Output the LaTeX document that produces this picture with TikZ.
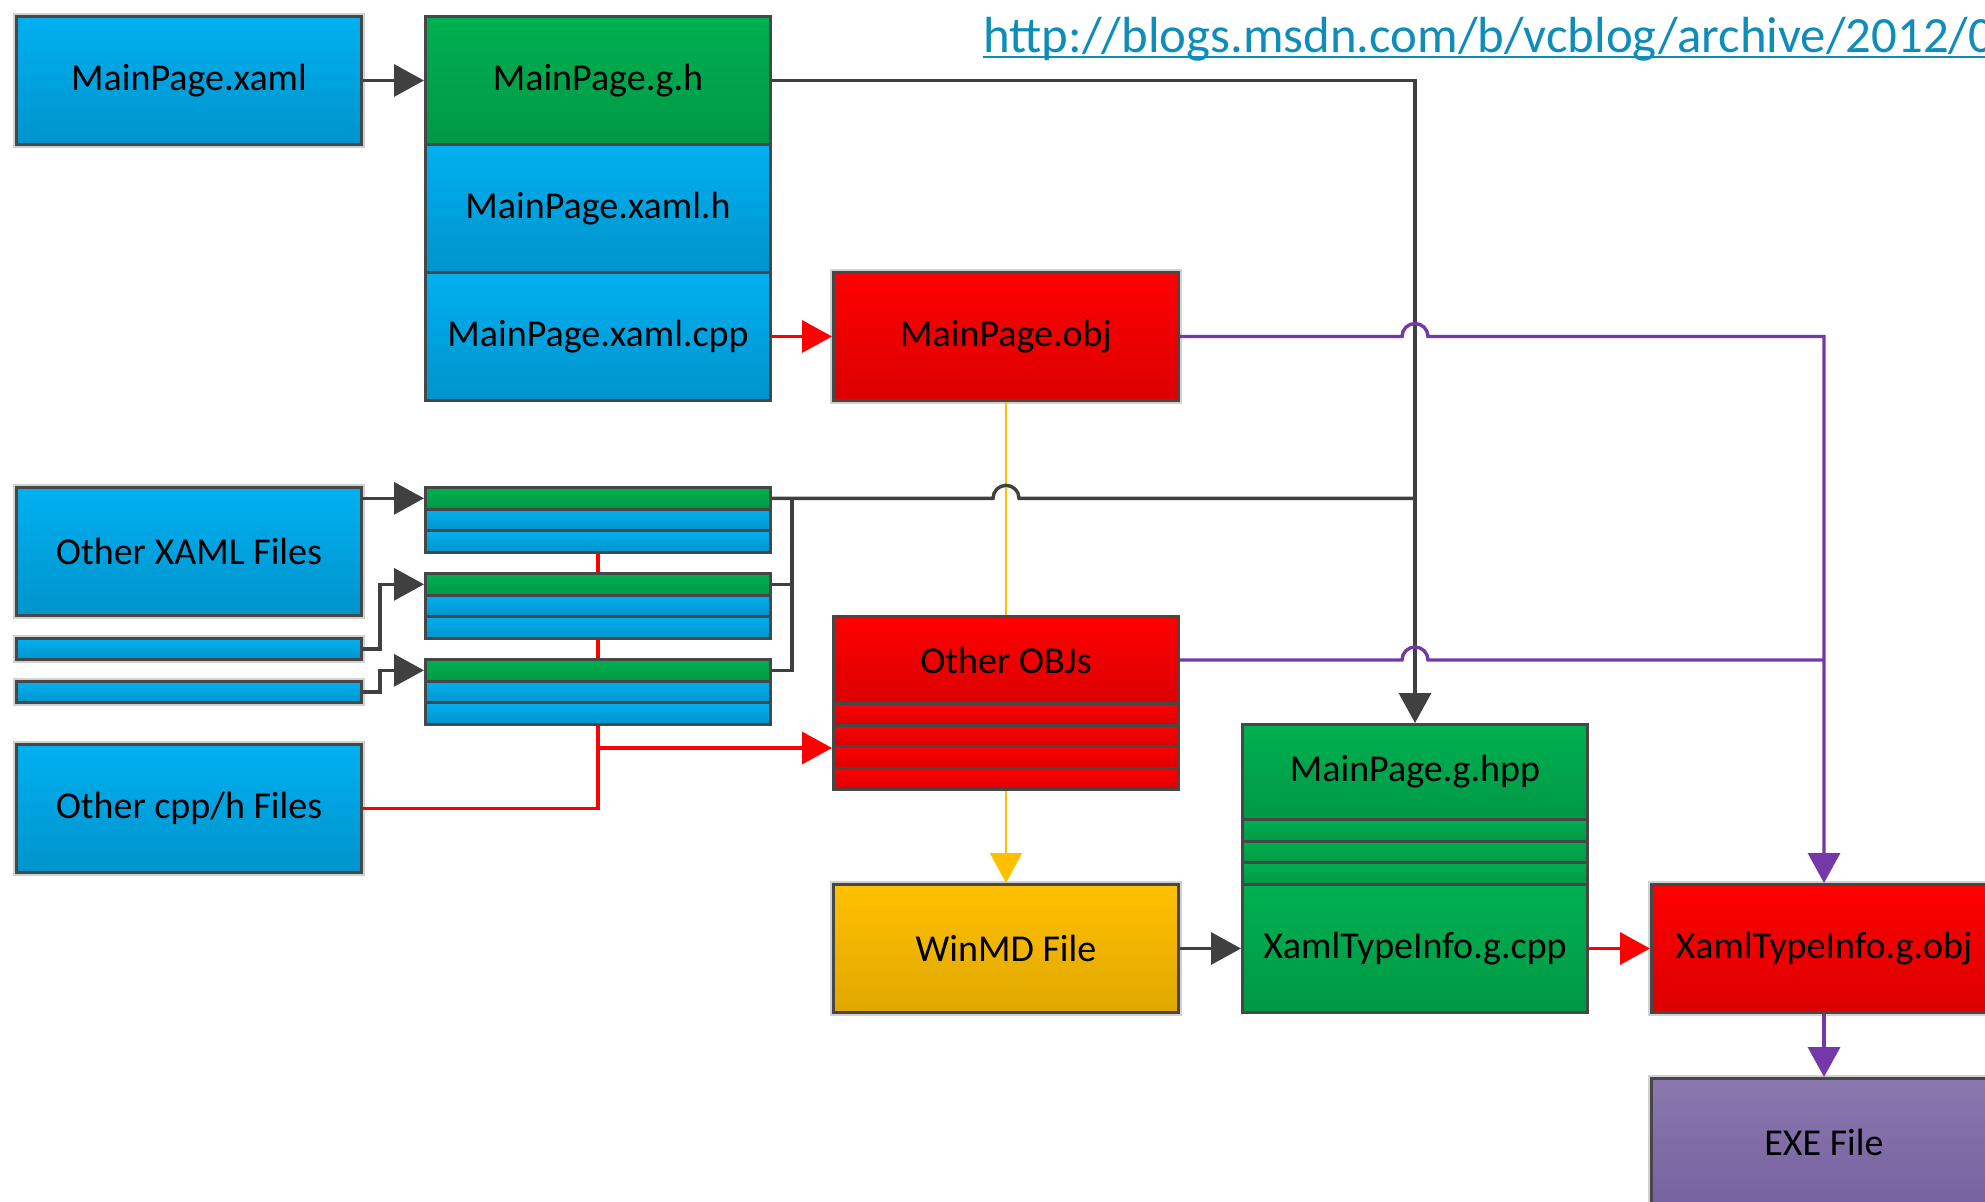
\documentclass[tikz,border=0pt]{standalone}
\usepackage{fontspec}
\setmainfont{Carlito}
\usetikzlibrary{arrows.meta,calc}

\definecolor{blueT}{HTML}{00B0F0}
\definecolor{blueB}{HTML}{0094CC}
\definecolor{greenT}{HTML}{00B050}
\definecolor{greenB}{HTML}{009846}
\definecolor{redT}{HTML}{FF0000}
\definecolor{redB}{HTML}{DC0000}
\definecolor{goldT}{HTML}{FFC000}
\definecolor{goldB}{HTML}{E0A800}
\definecolor{purpT}{HTML}{8A78AE}
\definecolor{purpB}{HTML}{7662A0}
\definecolor{lineGray}{HTML}{404040}
\definecolor{linePurple}{HTML}{7438A8}
\definecolor{lineGold}{HTML}{FFC000}
\definecolor{urlBlue}{HTML}{0E8CBA}

\tikzset{
  box/.style={draw=black!72, line width=1.5pt, inner sep=0pt, anchor=north west,
    minimum width=172.5pt, minimum height=64pt, font=\fontsize{19}{22}\selectfont},
  halo/.style={preaction={draw=black!18, line width=3.5pt}},
  row/.style={box, minimum height=10.83pt},
  stripe/.style={box, minimum height=10.75pt},
  bluefill/.style={top color=blueT, bottom color=blueB},
  greenfill/.style={top color=greenT, bottom color=greenB},
  redfill/.style={top color=redT, bottom color=redB},
  goldfill/.style={top color=goldT, bottom color=goldB},
  purplefill/.style={top color=purpT, bottom color=purpB},
  arr/.style={-{Triangle[length=15pt,width=16pt]}},
  grayline/.style={draw=lineGray, line width=1.7pt},
  redline/.style={draw=red, line width=1.7pt},
  purpleline/.style={draw=linePurple, line width=1.7pt},
  goldline/.style={draw=lineGold, line width=1.1pt},
}

\begin{document}
\begin{tikzpicture}[x=0.5pt,y=-0.5pt]
  \useasboundingbox (0,0) rectangle (1985,1202);

  % Source files
  \node[box,halo,bluefill] (mpxaml) at (15,15) {MainPage.xaml};
  \node[box,halo,bluefill] (oxaml) at (15,486) {Other XAML Files};
  \node[box,halo,bluefill,minimum height=10.5pt] (bar1) at (15,637) {};
  \node[box,halo,bluefill,minimum height=10.5pt] (bar2) at (15,680) {};
  \node[box,halo,bluefill] (ocpp) at (15,743) {Other cpp/h Files};

  % Generated files of MainPage
  \node[box,greenfill] (mpgh) at (424,15) {MainPage.g.h};
  \node[box,bluefill] (mpxh) at (424,143) {MainPage.xaml.h};
  \node[box,bluefill] (mpcpp) at (424,271) {MainPage.xaml.cpp};

  % Generated files of the other pages
  \foreach \i/\y in {1/486,2/572,3/658} {
    \node[row,greenfill] (pg\i) at (424,\y) {};
    \node[row,bluefill] (ph\i) at (424,\y+21.67) {};
    \node[row,bluefill] (pc\i) at (424,\y+43.33) {};
  }

  % Object files
  \node[box,halo,redfill] (mpobj) at (832,271) {MainPage.obj};
  \node[box,redfill,minimum height=43.5pt] (oobj) at (832,615) {Other OBJs};
  \foreach \i in {1,...,4}
    \node[stripe,redfill] (os\i) at (832,{702+21.5*(\i-1)}) {};

  % WinMD and type info
  \node[box,halo,goldfill] (winmd) at (832,883) {WinMD File};
  \node[box,greenfill,minimum height=47.5pt] (gphpp) at (1241,723) {MainPage.g.hpp};
  \foreach \i in {1,2,3}
    \node[row,greenfill] (hs\i) at (1241,{818+21.67*(\i-1)}) {};
  \node[box,greenfill] (xtcpp) at (1241,883) {XamlTypeInfo.g.cpp};
  \node[box,halo,redfill] (xtobj) at (1650,883) {XamlTypeInfo.g.obj};
  \node[box,halo,purplefill] (exe) at (1650,1077) {EXE File};

  % Link
  \node[anchor=base west, text=urlBlue, inner sep=0pt, font=\fontsize{25.4}{30}\selectfont] (url) at (983,53)
    {http://blogs.msdn.com/b/vcblog/archive/2012/0};
  \draw[urlBlue, line width=1.2pt] ([yshift=-2pt]url.base west) -- ([yshift=-2pt]url.base east);

  % Yellow links
  \draw[goldline] (mpobj.south) -- (oobj.north);
  \draw[goldline,arr] (os4.south) -- (winmd.north);

  % Gray links
  \draw[grayline,arr] (mpxaml.east) -- (mpgh.west);
  \draw[grayline,arr] (mpgh.east) -| (gphpp.north);
  \draw[grayline,arr] (oxaml.east |- pg1.west) -- (pg1.west);
  \draw[grayline,arr] (bar1.east) -- ++(8.5pt,0) |- (pg2.west);
  \draw[grayline,arr] (bar2.east) -- ++(8.5pt,0) |- (pg3.west);
  \coordinate (bus) at ([xshift=10pt]pg1.east);
  \draw[grayline] (pg3.east) -| (bus);
  \draw[grayline] (pg2.east) -- (pg2.east -| bus);
  \draw[grayline] (pg1.east) -- ([xshift=-6.5pt]pg1.east -| oobj.north)
    arc[start angle=180,end angle=360,radius=13] -- (pg1.east -| gphpp.north);
  \draw[grayline,arr] (winmd.east) -- (xtcpp.west);

  % Red links
  \draw[redline,arr] (mpcpp.east) -- (mpobj.west);
  \draw[redline] (pc1.south) -- (pg2.north);
  \draw[redline] (pc2.south) -- (pg3.north);
  \draw[redline] (ocpp.east) -| (pc3.south);
  \draw[redline,arr] (pc3.south |- os2.south west) -- (os2.south west);
  \draw[redline,arr] (xtcpp.east) -- (xtobj.west);

  % Purple links
  \draw[purpleline,arr] (mpobj.east) -- ([xshift=-6.5pt]mpobj.east -| gphpp.north)
    arc[start angle=180,end angle=360,radius=13] -| (xtobj.north);
  \draw[purpleline] (oobj.east) -- ([xshift=-6.5pt]oobj.east -| gphpp.north)
    arc[start angle=180,end angle=360,radius=13] -- (oobj.east -| xtobj.north);
  \draw[purpleline,arr] (xtobj.south) -- (exe.north);
\end{tikzpicture}
\end{document}
